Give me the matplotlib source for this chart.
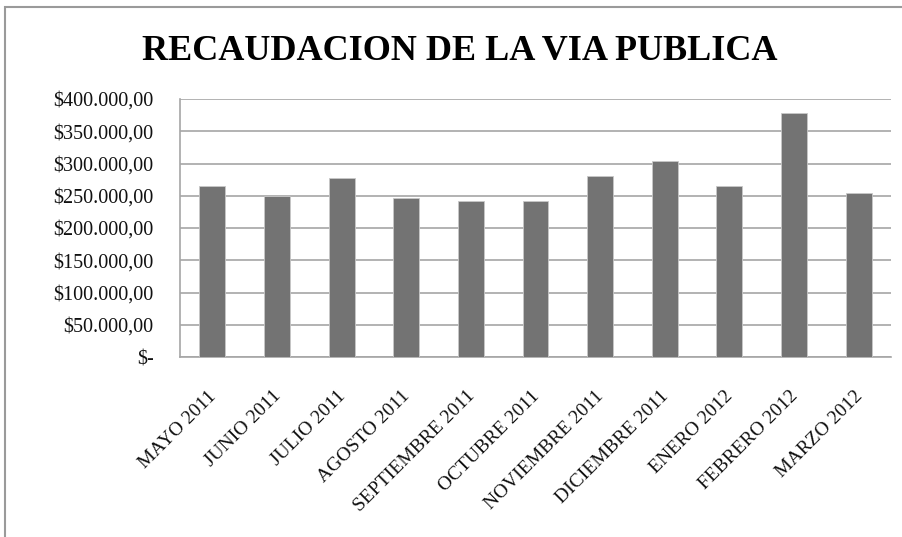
import matplotlib
matplotlib.use("Agg")
import matplotlib.pyplot as plt
from matplotlib.patches import Rectangle
from matplotlib.ticker import FuncFormatter
from matplotlib.transforms import ScaledTranslation

categories = ["MAYO 2011", "JUNIO 2011", "JULIO 2011", "AGOSTO 2011",
              "SEPTIEMBRE 2011", "OCTUBRE 2011", "NOVIEMBRE 2011",
              "DICIEMBRE 2011", "ENERO 2012", "FEBRERO 2012", "MARZO 2012"]
values = [265600, 250200, 277000, 246000, 241900, 241400, 280600,
          303400, 265600, 377800, 254700]
yticks = [0, 50000, 100000, 150000, 200000, 250000, 300000, 350000, 400000]
title = "RECAUDACION DE LA VIA PUBLICA"

serif = ["Liberation Serif", "DejaVu Serif"]

fig = plt.figure(figsize=(9.02, 5.37), dpi=100)
W, H = 902, 537
ax = fig.add_axes([180 / W, 1 - 357 / H, 711 / W, 258 / H])

x = list(range(len(categories)))
ax.bar(x, values, width=0.40, color="#737373", edgecolor="#c8c8c8",
       linewidth=0.6, zorder=3)
ax.set_xlim(-0.5, len(categories) - 0.5)
ax.set_ylim(0, 400000)
ax.set_yticks(yticks)


def fmt(v, pos):
    if v == 0:
        return "$-"
    s = f"{int(v):,}".replace(",", ".")
    return f"${s},00"


ax.yaxis.set_major_formatter(FuncFormatter(fmt))
ax.yaxis.grid(True, color="#a6a6a6", linewidth=1.2, zorder=0)
ax.set_axisbelow(True)
for s in ["top", "right"]:
    ax.spines[s].set_visible(False)
for s in ["left", "bottom"]:
    ax.spines[s].set_color("#a6a6a6")
    ax.spines[s].set_linewidth(1.2)
ax.tick_params(axis="y", length=0, pad=19, labelsize=14.5)
ax.tick_params(axis="x", length=0)
for lbl in ax.get_yticklabels():
    lbl.set_family(serif)
    lbl.set_color("#111111")

ax.set_xticks(x)
ax.set_xticklabels(categories, rotation=45, ha="right", va="top",
                   rotation_mode="anchor", family=serif, fontsize=14,
                   color="#111111")
ax.tick_params(axis="x", pad=22)
shift = ScaledTranslation(-5 / 100, 0, fig.dpi_scale_trans)
for lbl in ax.get_xticklabels():
    lbl.set_transform(lbl.get_transform() + shift)

fig.text(460 / W, 1 - 51 / H, title, ha="center", va="center",
         family=serif, fontweight="bold", fontsize=26, color="#000000")

# chart border (top and left visible)
fig.patches.append(Rectangle((5 / W, -0.1), 1.2, (1 - 7 / H) + 0.1,
                             transform=fig.transFigure, fill=False,
                             edgecolor="#9a9a9a", linewidth=1.5))

fig.savefig("out.png", dpi=100, facecolor="white")
